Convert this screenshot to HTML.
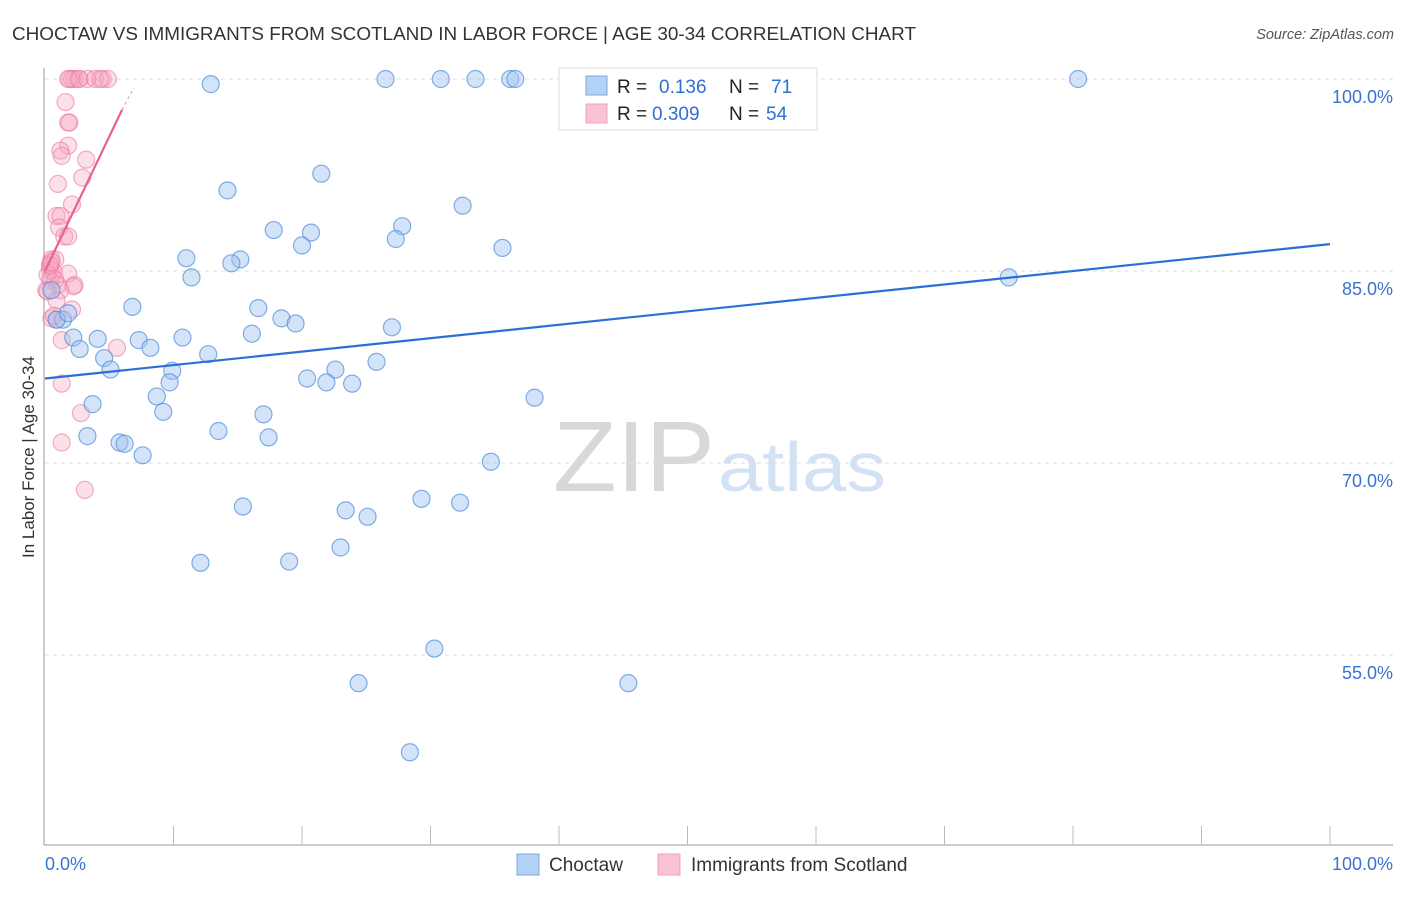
<!DOCTYPE html>
<html><head><meta charset="utf-8"><style>
body{margin:0;background:#fff;font-family:"Liberation Sans",sans-serif}
svg text{font-family:"Liberation Sans",sans-serif}
</style></head><body>
<svg id="c" width="1406" height="892" viewBox="0 0 1406 892">
<text x="12" y="40" font-size="18" fill="#333" textLength="904" lengthAdjust="spacingAndGlyphs">CHOCTAW VS IMMIGRANTS FROM SCOTLAND IN LABOR FORCE | AGE 30-34 CORRELATION CHART</text>
<text x="1394" y="39" font-size="14.5" fill="#555" text-anchor="end" font-style="italic">Source: ZipAtlas.com</text>
<text x="553" y="491" font-size="100" fill="#d8d8d8" font-family="Liberation Serif" textLength="162" lengthAdjust="spacingAndGlyphs">ZIP</text>
<text x="718" y="491" font-size="70" fill="#d3e1f5" textLength="168" lengthAdjust="spacingAndGlyphs">atlas</text>
<g id="grid"></g>
<g id="axes"></g>
<g id="marks"></g>
<text transform="translate(34,457) rotate(-90)" font-size="17" fill="#333" text-anchor="middle">In Labor Force | Age 30-34</text>
<g>
<rect x="559" y="68" width="258" height="62" fill="#fff" stroke="#ddd"/>
<rect x="586" y="76" width="21" height="19" fill="#b3d0f5" stroke="#7aa7e3"/>
<rect x="586" y="104" width="21" height="19" fill="#f9c3d3" stroke="#f0a0b8"/>
<text x="617" y="93" font-size="19" fill="#222">R = <tspan fill="#2f6fd0" x="659">0.136</tspan><tspan x="729">N = </tspan><tspan fill="#2f6fd0" x="771">71</tspan></text>
<text x="617" y="120" font-size="19" fill="#222">R = <tspan fill="#2f6fd0" x="652">0.309</tspan><tspan x="729">N = </tspan><tspan fill="#2f6fd0" x="766">54</tspan></text>
</g>
<g>
<rect x="517" y="854" width="22" height="21" fill="#b3d0f5" stroke="#7aa7e3"/>
<text x="549" y="871" font-size="19" fill="#333">Choctaw</text>
<rect x="658" y="854" width="22" height="21" fill="#f9c3d3" stroke="#f0a0b8"/>
<text x="691" y="871" font-size="19" fill="#333">Immigrants from Scotland</text>
</g>
</svg>
<script>
const yTicks=[100,85,70,55];
const yTickLabels=["100.0%","85.0%","70.0%","55.0%"];
const xTickLabels=["0.0%","100.0%"];
const choctawX=[12.9,26.5,30.8,33.5,36.2,36.6,80.4,21.5,14.2,32.5,17.8,27.8,20.7,27.3,20.0,35.6,11.0,15.2,14.5,11.4,75.0,6.8,16.6,18.4,19.5,27.0,1.4,0.9,1.8,16.1,10.7,4.1,7.3,2.2,2.7,8.2,12.7,4.6,25.8,5.1,9.9,22.6,20.4,21.9,23.9,9.7,8.7,38.1,3.7,9.2,17.0,13.5,3.3,17.4,5.8,6.2,7.6,34.7,29.3,32.3,15.4,23.4,25.1,23.0,12.1,19.0,30.3,24.4,45.4,28.4,0.5];
const choctawY=[99.6,100,100,100,100,100,100,92.6,91.3,90.1,88.2,88.5,88.0,87.5,87.0,86.8,86.0,85.9,85.6,84.5,84.5,82.2,82.1,81.3,80.9,80.6,81.2,81.2,81.7,80.1,79.8,79.7,79.6,79.8,78.9,79.0,78.5,78.2,77.9,77.3,77.2,77.3,76.6,76.3,76.2,76.3,75.2,75.1,74.6,74.0,73.8,72.5,72.1,72.0,71.6,71.5,70.6,70.1,67.2,66.9,66.6,66.3,65.8,63.4,62.2,62.3,55.5,52.8,52.8,47.4,83.5];
const scotX=[1.9,2.3,2.7,2.1,1.8,2.6,3.3,3.9,4.5,4.9,4.3,1.6,1.8,1.9,1.8,1.2,1.3,3.2,2.9,1.0,2.1,0.9,1.2,1.1,1.5,1.8,0.5,0.4,0.4,0.7,1.8,0.2,0.4,0.8,2.3,2.2,1.0,2.1,0.5,0.9,5.6,1.3,1.3,2.8,1.3,3.1,1.2,0.1,0.2,0.8,0.4,0.5,0.9,0.7];
const scotY=[100,100,100,100,100,100,100,100,100,100,100,98.2,96.6,96.6,94.8,94.4,94.0,93.7,92.3,91.8,90.2,89.3,89.3,88.4,87.7,87.7,85.9,85.5,85.1,84.9,84.8,84.7,84.3,84.3,83.9,83.8,83.9,82.0,81.3,81.2,79.0,79.6,76.2,73.9,71.6,67.9,83.5,83.5,83.4,85.9,85.4,85.7,82.7,81.5];
const choctawTrend=[76.6,87.1];
const scotTrend=[85.0,97.6,99.3];
const scotTrendX=[0,6.0,6.9];

const NS="http://www.w3.org/2000/svg";
const X=v=>45+v*12.85, Y=v=>79+(100-v)*12.8;
function mk(t,a,p){const e=document.createElementNS(NS,t);for(const k in a)e.setAttribute(k,a[k]);p.appendChild(e);return e;}
const grid=document.getElementById('grid'),axes=document.getElementById('axes'),marks=document.getElementById('marks');
yTicks.forEach((t,i)=>{
 const l=mk('line',{x1:45,x2:1393,y1:Y(t),y2:Y(t),stroke:'#ddd','stroke-dasharray':'4,4'},grid);
 
 
 const tx=mk('text',{x:1393,y:Y(t)+24,'font-size':18,fill:'#3a72d4','text-anchor':'end'},axes);
 tx.textContent=yTickLabels[i];
 
 
});
const ya=mk('line',{x1:44,x2:44,y1:68,y2:845,stroke:'#999'},axes);


const xa=mk('line',{x1:44,x2:1393,y1:845,y2:845,stroke:'#999'},axes);


for(let i=1;i<=10;i++){
 const x=X(i*10);
 const tk=mk('line',{x1:x,x2:x,y1:826,y2:845,stroke:'#bbb'},axes);
 
 
}
[[0,'start',45],[1,'end',1393]].forEach(([i,a,x])=>{
 const t=mk('text',{x:x,y:870,'font-size':18,fill:'#3a72d4','text-anchor':a},axes);
 t.textContent=xTickLabels[i];
 
 
});
scotX.forEach((v,i)=>{
 const c=mk('circle',{cx:X(v),cy:Y(scotY[i]),r:8.5,fill:'rgba(245,165,192,0.35)',stroke:'rgba(236,120,158,0.6)','stroke-width':1.2},marks);
 
 
});
choctawX.forEach((v,i)=>{
 const c=mk('circle',{cx:X(v),cy:Y(choctawY[i]),r:8.5,fill:'rgba(160,196,240,0.45)',stroke:'rgba(80,140,220,0.7)','stroke-width':1.2},marks);
 
 
});
const bl=mk('line',{x1:X(0),y1:Y(choctawTrend[0]),x2:X(100),y2:Y(choctawTrend[1]),stroke:'#2a6fd4','stroke-width':2.2},marks);


const pl=mk('line',{x1:X(scotTrendX[0]),y1:Y(scotTrend[0]),x2:X(scotTrendX[1]),y2:Y(scotTrend[1]),stroke:'#e8608c','stroke-width':2.2},marks);


const pd=mk('line',{x1:X(scotTrendX[1]),y1:Y(scotTrend[1]),x2:X(scotTrendX[2]),y2:Y(scotTrend[2]),stroke:'#f0a0b8','stroke-width':1.2,'stroke-dasharray':'3,3'},marks);


</script>
</body></html>
